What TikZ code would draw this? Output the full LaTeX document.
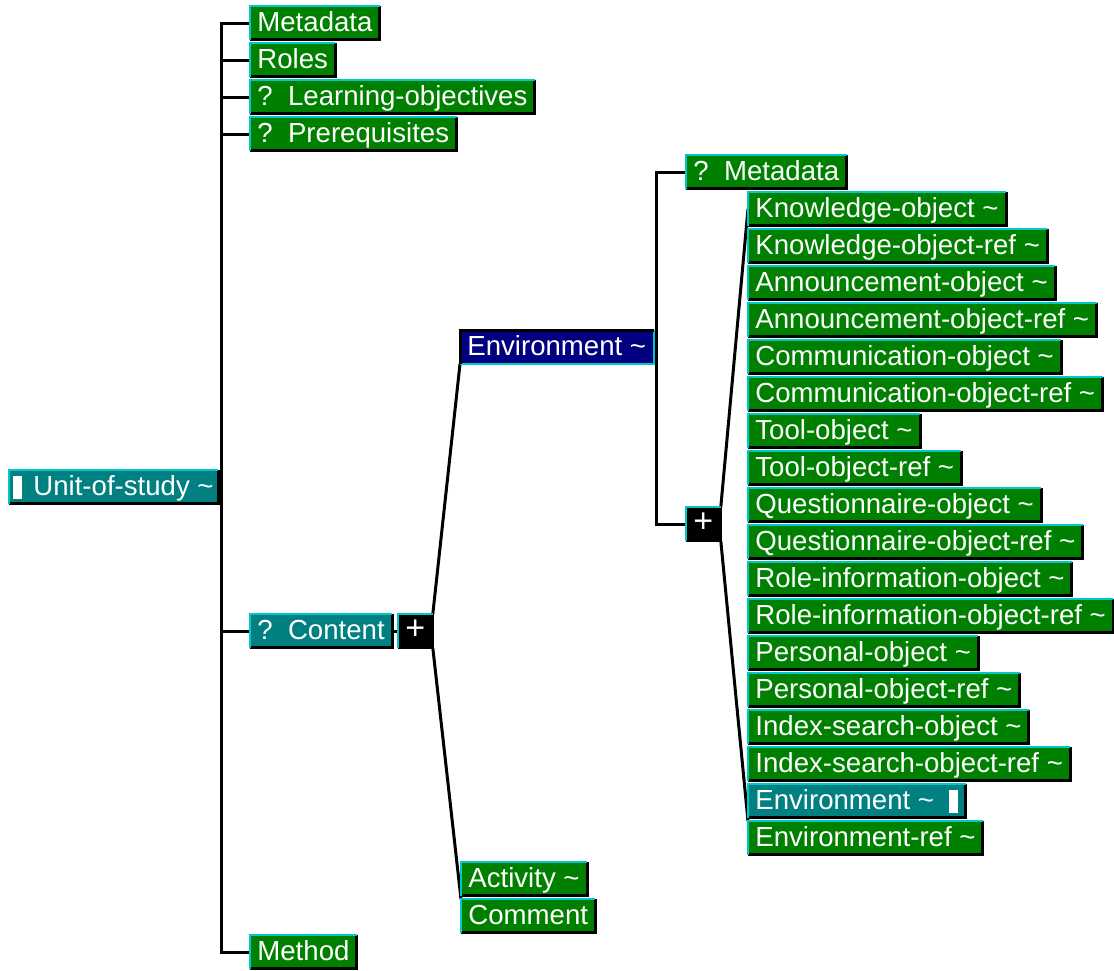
\documentclass[tikz,border=0pt]{standalone}
\usepackage{fontspec}
\setmainfont{Liberation Sans}
\definecolor{cgreen}{RGB}{0,128,0}
\definecolor{cteal}{RGB}{0,128,128}
\definecolor{cnavy}{RGB}{0,0,128}
\definecolor{ccyan}{RGB}{0,200,200}
\newcommand{\tild}{\textasciitilde}
\newcommand{\cur}{\rule[-2pt]{4.5pt}{11.5pt}}
\tikzset{
  leaf/.style={anchor=west, fill=cgreen, text=white, inner xsep=3.5pt, inner ysep=0pt,
    minimum height=16.5pt, text height=11pt, text depth=3pt,
    font={\fontsize{13.8pt}{16pt}\selectfont}},
  folder/.style={leaf, fill=cteal},
  plusbox/.style={leaf, fill=black, minimum width=17pt, inner xsep=0pt,
    font={\fontsize{17pt}{18pt}\selectfont}},
  wire/.style={line width=1.5pt},
  hiedge/.style={ccyan, line width=1pt},
  loedge/.style={black, line width=1.5pt}
}
\begin{document}
\begin{tikzpicture}[x=0.5pt, y=-0.5pt]
	\useasboundingbox (0,0) rectangle (1114,970);
	% root and first level
	\node[folder, inner xsep=2pt] (unit) at (9, 487) {\cur\hspace{5.5pt}Unit-of-study \tild};
	\node[leaf] (meta) at (250, 23) {Metadata};
	\node[leaf] (roles) at (250, 60) {Roles};
	\node[leaf] (learn) at (250, 97) {?~~Learning-objectives};
	\node[leaf] (prereq) at (250, 134) {?~~Prerequisites};
	\node[folder] (content) at (250, 631) {?~~Content};
	\node[leaf] (method) at (250, 952) {Method};
	% content
	\node[plusbox] (plus1) at (398, 631) {+};
	\node[leaf, fill=cnavy] (env) at (460, 347) {Environment \tild};
	\node[leaf] (activity) at (461, 879) {Activity \tild};
	\node[leaf] (comment) at (461, 916) {Comment};
	% environment
	\node[leaf] (meta2) at (686, 172) {?~~Metadata};
	\node[plusbox] (plus2) at (686, 524) {+};
	\foreach \nm/\txt [count=\i from 0] in {know/Knowledge-object, knowref/Knowledge-object-ref,
		ann/Announcement-object, annref/Announcement-object-ref,
		comm/Communication-object, commref/Communication-object-ref,
		tool/Tool-object, toolref/Tool-object-ref,
		quest/Questionnaire-object, questref/Questionnaire-object-ref,
		role/Role-information-object, roleref/Role-information-object-ref,
		pers/Personal-object, persref/Personal-object-ref,
		index/Index-search-object, indexref/Index-search-object-ref}
		\node[leaf] (\nm) at (748, 209+37*\i) {\txt\ \tild};
	\node[folder] (envb) at (748, 801) {Environment \tild\hspace{7.5pt}\cur};
	\node[leaf] (envref) at (748, 838) {Environment-ref \tild};

	% connectors
	\coordinate (trunk) at (221, 0);
	\draw[wire] (meta.west) -| (trunk |- method.west) -- (method.west);
	\foreach \n in {roles, learn, prereq, content}
		\draw[wire] (\n.west) -- (trunk |- \n.west);
	\draw[wire] (unit.east) -- (trunk |- unit.east);
	\draw[wire] (content.east) -- (plus1.west);
	\draw[wire] (plus1.north east) -- (env.south west);
	\draw[wire] (plus1.south east) -- (comment.north west);
	\coordinate (etrunk) at (656, 0);
	\draw[wire] (meta2.west) -| (etrunk |- plus2.west) -- (plus2.west);
	\draw[wire] (env.east) -- (etrunk |- env.east);
	\draw[wire] (plus2.north east) -- (know.west);
	\draw[wire] (plus2.south east) -- (envref.north west);

	% bevels
	\foreach \n in {unit, meta, roles, learn, prereq, content, method, plus1, activity, comment,
		meta2, plus2, know, knowref, ann, annref, comm, commref, tool, toolref, quest, questref,
		role, roleref, pers, persref, index, indexref, envb, envref} {
		\draw[loedge] (\n.south west) -| (\n.north east);
		\draw[hiedge] (\n.south west) |- (\n.north east);
	}
	\draw[hiedge] (env.south west) -| (env.north east);
	\draw[loedge] (env.south west) |- (env.north east);
\end{tikzpicture}
\end{document}
